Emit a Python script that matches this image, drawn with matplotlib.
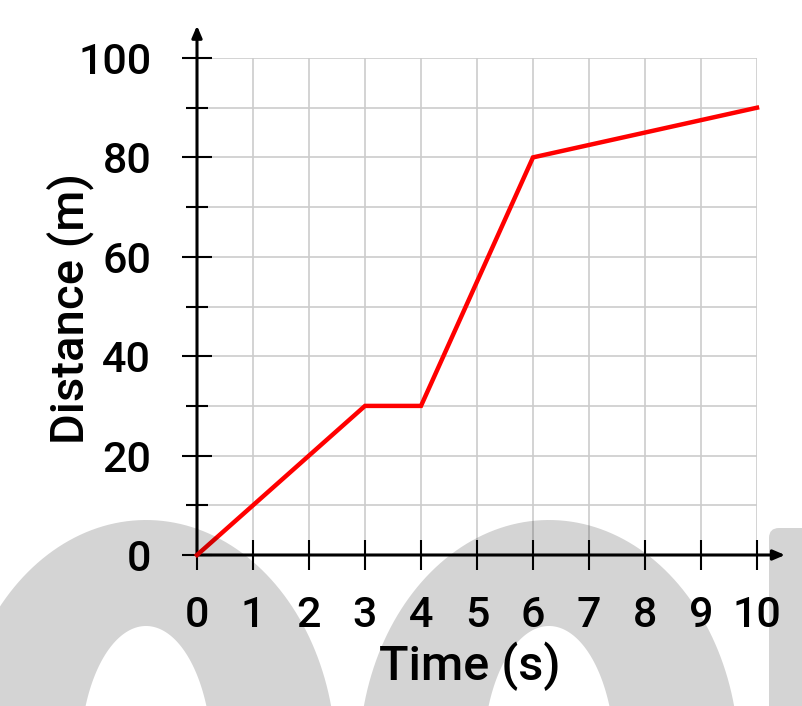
import matplotlib.pyplot as plt
import numpy as np
from matplotlib.path import Path
from matplotlib.patches import PathPatch, FancyBboxPatch

plt.rcParams['font.family'] = ['Roboto', 'DejaVu Sans']
plt.rcParams['font.weight'] = 'medium'
plt.rcParams['axes.labelweight'] = 'medium'

# данные: время (с) и пройденное расстояние (м)
time_s = [0, 3, 4, 6, 10]
distance_m = [0, 30, 30, 80, 90]

x_ticks = list(range(0, 11))
y_major = [0, 20, 40, 60, 80, 100]
y_minor = [10, 30, 50, 70, 90]

fig = plt.figure(figsize=(8.02, 7.06), dpi=100)
ax = fig.add_axes([197 / 802, 151 / 706, 560 / 802, 497 / 706])

ax.set_xlim(0, 10)
ax.set_ylim(0, 100)
for s in ax.spines.values():
    s.set_visible(False)

ax.set_xticks(x_ticks)
ax.set_yticks(y_major)
ax.set_yticks(y_minor, minor=True)
ax.tick_params(axis='x', direction='inout', length=22, width=1.5, pad=18,
               labelsize=31, colors='black')
ax.tick_params(axis='y', which='major', direction='inout', length=22, width=1.5,
               pad=22, labelsize=31, colors='black')
ax.tick_params(axis='y', which='minor', direction='inout', length=16, width=1.5)
ax.grid(True, which='both', color='#cccccc', lw=1.2, zorder=0)
ax.set_axisbelow(True)

# оси со стрелками
arrow = dict(arrowstyle='-|>,head_length=0.7,head_width=0.3', lw=2.2,
             color='black', shrinkA=0, shrinkB=0)
ax.annotate('', xy=(10.5, 0), xytext=(0, 0), arrowprops=arrow,
            annotation_clip=False, zorder=4)
ax.annotate('', xy=(0, 106.5), xytext=(0, 0), arrowprops=arrow,
            annotation_clip=False, zorder=4)

ax.plot(time_s, distance_m, color='#ff0000', lw=3.2, clip_on=False, zorder=5,
        solid_joinstyle='miter')

ax.set_xlabel('Time (s)', fontsize=35)
ax.set_ylabel('Distance (m)', fontsize=34)
ax.xaxis.set_label_coords(0.4875, -0.175)
ax.yaxis.set_label_coords(-0.182, 0.495)

# полупрозрачный серый водяной знак поверх всего
wm = fig.add_axes([0, 0, 1, 1], zorder=10)
wm.set_xlim(0, 802)
wm.set_ylim(706, 0)
wm.axis('off')
wm.patch.set_alpha(0)

t = np.linspace(0, 2 * np.pi, 200)


def ring(cx, cy, a, b, ia, ib):
    outer = np.column_stack([cx + a * np.cos(t), cy + b * np.sin(t)])
    inner = np.column_stack([cx + ia * np.cos(t), cy + ib * np.sin(t)])[::-1]
    return Path.make_compound_path(Path(outer, closed=True), Path(inner, closed=True))


for cx in (146, 549):
    wm.add_patch(PathPatch(ring(cx, 760, 190, 240, 66, 134), fc='black',
                           ec='none', alpha=0.17))
wm.add_patch(FancyBboxPatch((769, 528), 60, 200, boxstyle='round,pad=0,rounding_size=10',
                            fc='black', ec='none', alpha=0.17))

fig.savefig('out.png', dpi=100)
